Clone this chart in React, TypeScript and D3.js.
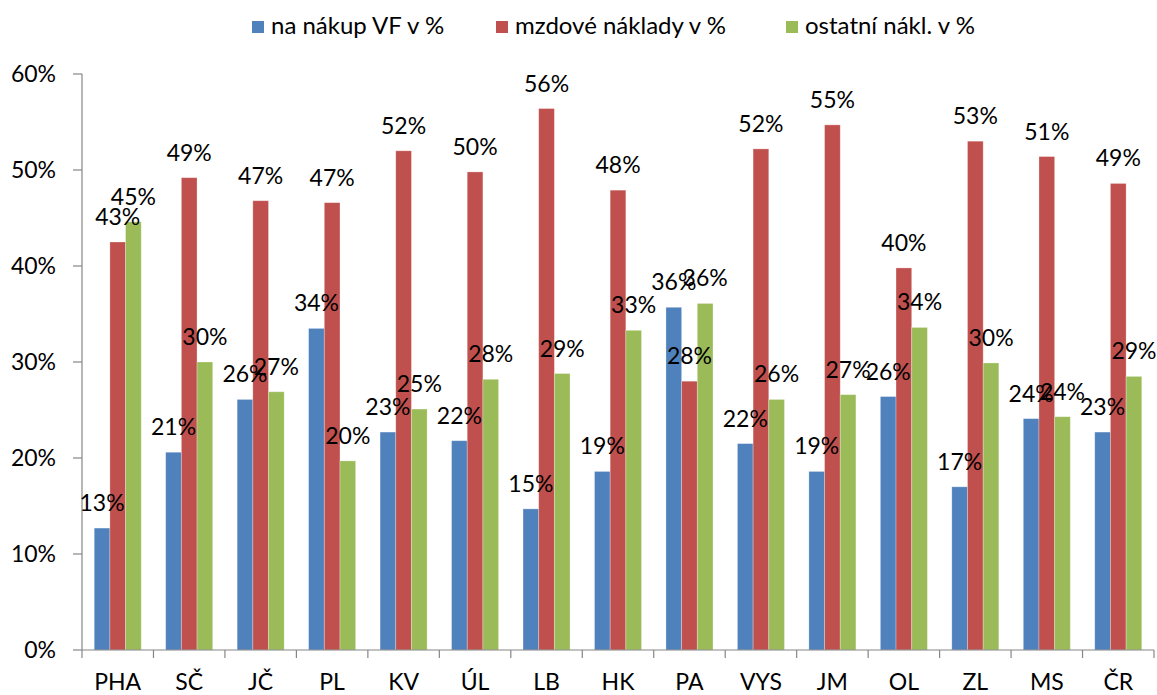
import * as d3 from 'd3';
import React from 'react';

// regions
const categories = ['PHA', 'SČ', 'JČ', 'PL', 'KV', 'ÚL', 'LB', 'HK', 'PA', 'VYS', 'JM', 'OL', 'ZL', 'MS', 'ČR'];

// shares in %
const nakupVF = [12.7, 20.6, 26.1, 33.5, 22.7, 21.8, 14.7, 18.6, 35.7, 21.5, 18.6, 26.4, 17.0, 24.1, 22.7];
const mzdove = [42.5, 49.2, 46.8, 46.6, 52.0, 49.8, 56.4, 47.9, 28.0, 52.2, 54.7, 39.8, 53.0, 51.4, 48.6];
const ostatni = [44.6, 30.0, 26.9, 19.7, 25.1, 28.2, 28.8, 33.3, 36.1, 26.1, 26.6, 33.6, 29.9, 24.3, 28.5];

const seriesNames = ['na nákup VF v %', 'mzdové náklady v %', 'ostatní nákl. v %'];
const seriesColors = ['#4F81BD', '#C0504D', '#9BBB59'];
const yTicks = [0, 10, 20, 30, 40, 50, 60];

const W = 1157;
const H = 695;
const margin = { left: 82, right: 3, top: 74, bottom: 45 };
const font = 'Lato, "Open Sans", sans-serif';
const axisColor = '#868686';
const fs = 23;

export default function App() {
  const series = [nakupVF, mzdove, ostatni];

  const x = d3
    .scaleBand()
    .domain(categories)
    .range([margin.left, W - margin.right])
    .paddingInner(0)
    .paddingOuter(0);

  const xInner = d3
    .scaleBand()
    .domain(['0', '1', '2'])
    .range([0, x.bandwidth()])
    .paddingOuter(0.78)
    .paddingInner(0);

  const y = d3.scaleLinear().domain([0, 60]).range([H - margin.bottom, margin.top]);

  const legendX = [252, 496, 786];

  return (
    <div style={{ position: 'absolute', left: 0, top: 0 }}>
      <svg width={W} height={H} style={{ display: 'block', background: '#fff' }}>
        {/* legend */}
        {seriesNames.map((name, i) => (
          <g key={name} transform={`translate(${legendX[i]},0)`}>
            <rect x={0} y={21} width={12} height={12} fill={seriesColors[i]} />
            <text x={19} y={34} fontFamily={font} fontSize={24} fill="#000">
              {name}
            </text>
          </g>
        ))}

        {/* bars */}
        {series.map((vals, si) =>
          vals.map((v, ci) => (
            <rect
              key={`b${si}-${ci}`}
              x={x(categories[ci])! + xInner(String(si))!}
              y={y(v)}
              width={xInner.bandwidth()}
              height={y(0) - y(v)}
              fill={seriesColors[si]}
              stroke="#ffffff"
              strokeOpacity={0.35}
              strokeWidth={0.8}
            />
          ))
        )}

        {/* y axis */}
        <line x1={margin.left} x2={margin.left} y1={y(60)} y2={y(0)} stroke={axisColor} strokeWidth={1.2} />
        {yTicks.map((t) => (
          <g key={t}>
            <line x1={margin.left - 9} x2={margin.left} y1={y(t)} y2={y(t)} stroke={axisColor} strokeWidth={1.2} />
            <text
              x={56}
              y={y(t)}
              dy="0.36em"
              textAnchor="end"
              fontFamily={font}
              fontSize={fs}
              fill="#000"
            >
              {t}%
            </text>
          </g>
        ))}

        {/* x axis */}
        <line x1={margin.left} x2={W - margin.right} y1={y(0)} y2={y(0)} stroke={axisColor} strokeWidth={1.2} />
        {categories.map((c) => (
          <line
            key={`t${c}`}
            x1={x(c)! + x.bandwidth()}
            x2={x(c)! + x.bandwidth()}
            y1={y(0)}
            y2={y(0) + 8}
            stroke={axisColor}
            strokeWidth={1.2}
          />
        ))}
        <line x1={margin.left} x2={margin.left} y1={y(0)} y2={y(0) + 8} stroke={axisColor} strokeWidth={1.2} />
        {categories.map((c) => (
          <text
            key={`l${c}`}
            x={x(c)! + x.bandwidth() / 2}
            y={690}
            textAnchor="middle"
            fontFamily={font}
            fontSize={fs}
            fill="#000"
          >
            {c}
          </text>
        ))}

        {/* data labels */}
        {series.map((vals, si) =>
          vals.map((v, ci) => (
            <text
              key={`d${si}-${ci}`}
              x={x(categories[ci])! + xInner(String(si))! + xInner.bandwidth() / 2}
              y={y(v) - 17}
              textAnchor="middle"
              fontFamily={font}
              fontSize={fs}
              fill="#000"
            >
              {Math.round(v)}%
            </text>
          ))
        )}
      </svg>
    </div>
  );
}
